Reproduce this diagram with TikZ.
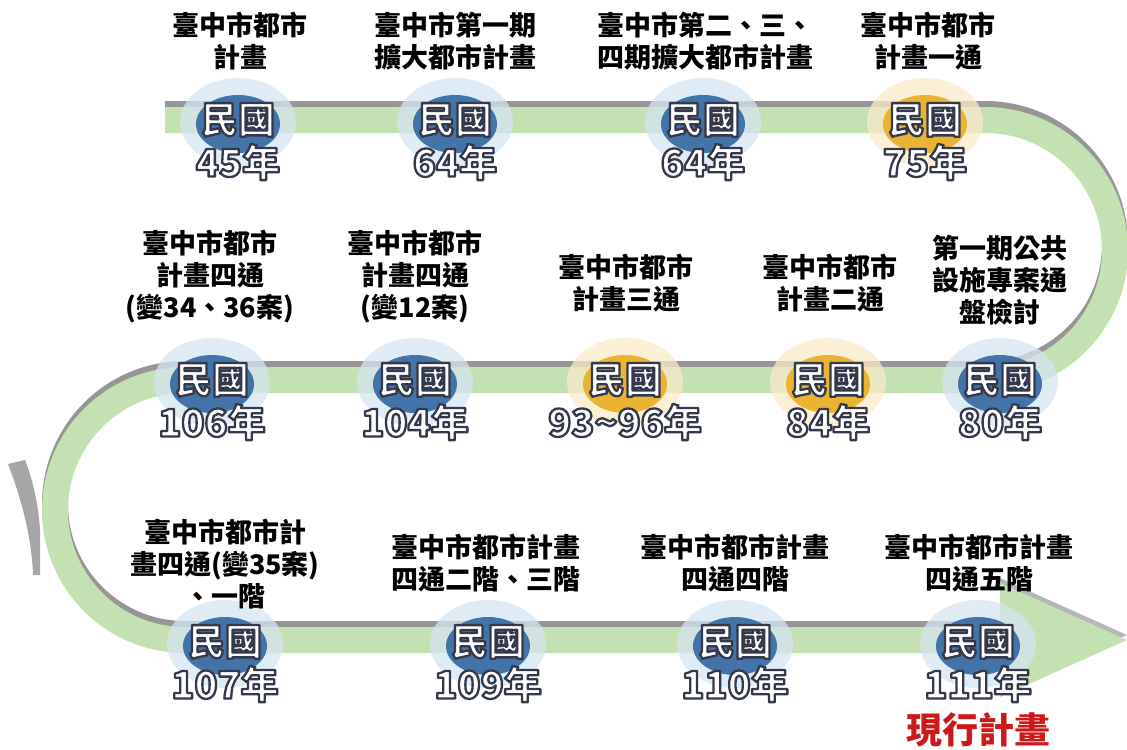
\documentclass[tikz,border=0pt]{standalone}
\usepackage{fontspec}
\setmainfont{Noto Sans CJK TC}
\usetikzlibrary{shapes.geometric,positioning}

\definecolor{trackgreen}{RGB}{196,225,178}
\definecolor{trackshade}{RGB}{150,150,150}
\definecolor{ballblue}{RGB}{66,116,170}
\definecolor{haloblue}{RGB}{214,229,241}
\definecolor{ballgold}{RGB}{234,180,50}
\definecolor{halogold}{RGB}{249,234,200}
\definecolor{nowred}{RGB}{205,25,25}

% white letters with a dark rim
\newcommand{\yrtext}[1]{{\color{white}\special{pdf:literal direct 0.2 0.22 0.29 RG 2 Tr 1.15 w 1 j}#1\special{pdf:literal direct 0 Tr}}}

\tikzset{
  track/.style={draw=trackgreen, line width=13pt},
  trackedge/.style={draw=trackshade, line width=13pt},
  ball/.style={ellipse, minimum width=42pt, minimum height=29pt, inner sep=0pt},
  mingo/.style={inner sep=0pt, font=\fontsize{18.5}{18.5}\selectfont\bfseries},
  yeartext/.style={inner sep=0pt, font=\fontsize{19}{19}\selectfont\bfseries},
  stagetext/.style={align=center, inner sep=0pt, font=\fontsize{13.5}{16}\selectfont\bfseries},
  nowtext/.style={inner sep=0pt, text=nowred, font=\fontsize{18}{18}\selectfont\bfseries}
}

\begin{document}
\begin{tikzpicture}[x=0.5pt, y=-0.5pt]
  \useasboundingbox (0,0) rectangle (1127,749);

  %% the track
  \coordinate (t0) at (165,120);
  \coordinate (t1) at (985,120);
  \coordinate (t2) at (185,380);
  \coordinate (t3) at (1005,640);
  \begin{scope}[transform canvas={yshift=3pt}]
    \draw[trackedge] (t0) -- (t1) arc[start angle=-90, end angle=90, radius=130]
      -- (t2) arc[start angle=-90, end angle=-270, radius=130] -- (t3);
  \end{scope}
  \draw[track] (t0) -- (t1) arc[start angle=-90, end angle=90, radius=130]
    -- (t2) arc[start angle=-90, end angle=-270, radius=130] -- (t3);

  % arrow head
  \fill[trackshade!70] (1000,578) -- (1127,635) -- (1000,692) -- cycle;
  \fill[trackgreen] (1000,583) -- (1127,640) -- (1000,697) -- cycle;

  % grey stroke at the left
  \fill[trackshade!85] (8,464) .. controls (22,500) and (32,540) .. (33,575)
    -- (40,575) -- (40,530) .. controls (38,500) and (32,478) .. (25,460) -- cycle;

  %% years
  \foreach \nm/\x/\y/\yr/\clr in {
      y45/238/120/45年/blue, y64a/455/120/64年/blue, y64b/703/120/64年/blue, y75/925/120/75年/gold,
      y106/212/380/106年/blue, y104/415/380/104年/blue, y93/625/380/93\textasciitilde 96年/gold,
      y84/828/380/84年/gold, y80/1000/380/80年/blue,
      y107/225/642/107年/blue, y109/488/642/109年/blue, y110/735/642/110年/blue, y111/978/642/111年/blue}
  {
    \fill[halo\clr, opacity=0.75] (\x,\y+2) ellipse[x radius=58, y radius=44];
    \node[ball, fill=ball\clr] (b\nm) at (\x,\y+4) {};
    \node[mingo] (m\nm) at (\x,\y) {\yrtext{民國}};
    \node[yeartext] (\nm) at (\x,\y+42) {\yrtext{\yr}};
  }

  %% stages
  \node[stagetext] (s45) at (240,41) {臺中市都市\\計畫};
  \node[stagetext] (s64a) at (455,41) {臺中市第一期\\擴大都市計畫};
  \node[stagetext] (s64b) at (705,41) {臺中市第二、三、\\四期擴大都市計畫};
  \node[stagetext] (s75) at (928,41) {臺中市都市\\計畫一通};

  \node[stagetext] (s106) at (210,277) {臺中市都市\\計畫四通\\(變34、36案)};
  \node[stagetext] (s104) at (415,277) {臺中市都市\\計畫四通\\(變12案)};
  \node[stagetext] (s93) at (626,283) {臺中市都市\\計畫三通};
  \node[stagetext] (s84) at (830,283) {臺中市都市\\計畫二通};
  \node[stagetext] (s80) at (1000,280) {第一期公共\\設施專案通\\盤檢討};

  \node[stagetext] (s107) at (225,564) {臺中市都市計\\畫四通(變35案)\\、一階};
  \node[stagetext] (s109) at (486,563) {臺中市都市計畫\\四通二階、三階};
  \node[stagetext] (s110) at (735,563) {臺中市都市計畫\\四通四階};
  \node[stagetext] (s111) at (979,563) {臺中市都市計畫\\四通五階};

  \node[nowtext, below=5pt of y111] (now) {現行計畫};
\end{tikzpicture}
\end{document}
